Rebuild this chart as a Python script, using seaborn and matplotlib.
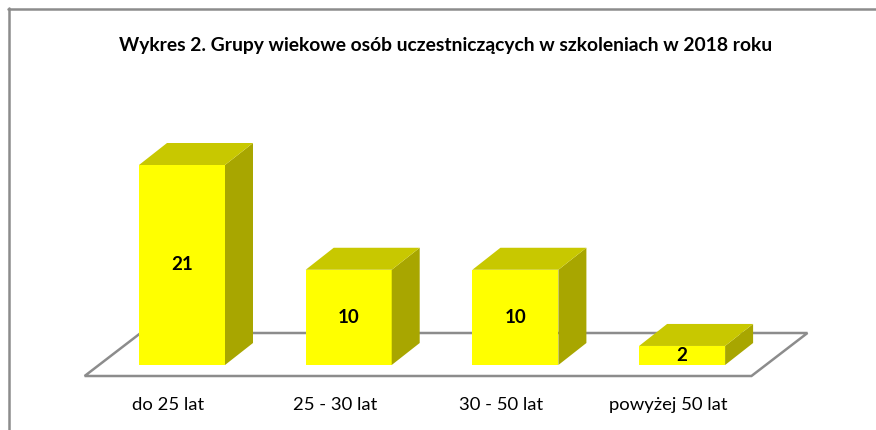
import matplotlib
matplotlib.use("Agg")
import matplotlib.pyplot as plt
from matplotlib.patches import Polygon
from matplotlib.lines import Line2D
import seaborn as sns
import pandas as pd

# Data
categories = ["do 25 lat", "25 - 30 lat", "30 - 50 lat", "powyżej 50 lat"]
counts = [21, 10, 10, 2]
title = "Wykres 2. Grupy wiekowe osób uczestniczących w szkoleniach w 2018 roku"

df = pd.DataFrame({"grupa": categories, "liczba": counts})

sns.set_theme(style="white")
plt.rcParams["font.family"] = ["Lato", "DejaVu Sans"]

W, H = 876, 430
fig = plt.figure(figsize=(W / 100, H / 100), dpi=100)
ax = fig.add_axes([0, 0, 1, 1])

# pixel geometry of the drawing area
px_per_x = 166.7          # horizontal pixels per category slot
px_per_y = 200 / 21       # vertical pixels per unit of value
x0_px, base_px = 182, 365  # first bar centre and baseline, in pixels

FRONT = "#FFFF00"
TOP = "#C8C800"
SIDE = "#A8A600"
EDGE = "#8C8C8C"

bar_w = 86 / px_per_x
# depth of a bar (pixels to data units)
ddx, ddy = 28 / px_per_x, 22 / px_per_y
# floor front/back offsets relative to the bar front plane
ffx, ffy = -14 / px_per_x, -11 / px_per_y
fbx, fby = 42 / px_per_x, 32 / px_per_y

n = len(categories)
left, right = -0.5, n - 0.5
floor = Polygon([(left + ffx, ffy), (right + ffx, ffy), (right + fbx, fby), (left + fbx, fby)],
                closed=True, facecolor="white", edgecolor=EDGE, lw=1.8, zorder=1)
ax.add_patch(floor)

sns.barplot(data=df, x="grupa", y="liczba", order=categories, color=FRONT,
            width=bar_w, saturation=1, ax=ax, zorder=3, linewidth=0)
ax.set_xlim(-x0_px / px_per_x, (W - x0_px) / px_per_x)
ax.set_ylim(-(H - base_px) / px_per_y, base_px / px_per_y)
ax.axis("off")

for patch, val in zip(ax.patches[1:], counts):
    x_l = patch.get_x()
    x_r = x_l + patch.get_width()
    h = patch.get_height()
    side = Polygon([(x_r, 0), (x_r + ddx, ddy), (x_r + ddx, h + ddy), (x_r, h)],
                   closed=True, facecolor=SIDE, edgecolor="none", zorder=3)
    top = Polygon([(x_l, h), (x_r, h), (x_r + ddx, h + ddy), (x_l + ddx, h + ddy)],
                  closed=True, facecolor=TOP, edgecolor="none", zorder=3)
    ax.add_patch(side)
    ax.add_patch(top)
    ax.text(x_l + patch.get_width() / 2, h / 2, str(val), ha="center", va="center",
            fontsize=13.5, fontweight="bold", color="black", zorder=4)

for i, cat in enumerate(categories):
    ax.text(i + ffx, -(405 - base_px) / px_per_y, cat, ha="center", va="center",
            fontsize=13.3, color="black")

fig.text(446 / W, 1 - 45 / H, title, ha="center", va="center",
         fontsize=13.9, fontweight="bold", color="black")

# chart frame
fig.add_artist(Line2D([8.5 / W, 8.5 / W], [0, 1 - 8 / H], color="#8C8C8C", lw=1.8,
                      transform=fig.transFigure))
fig.add_artist(Line2D([8 / W, 1], [1 - 9 / H, 1 - 9 / H], color="#8C8C8C", lw=1.8,
                      transform=fig.transFigure))

fig.savefig("out.png", dpi=100)
